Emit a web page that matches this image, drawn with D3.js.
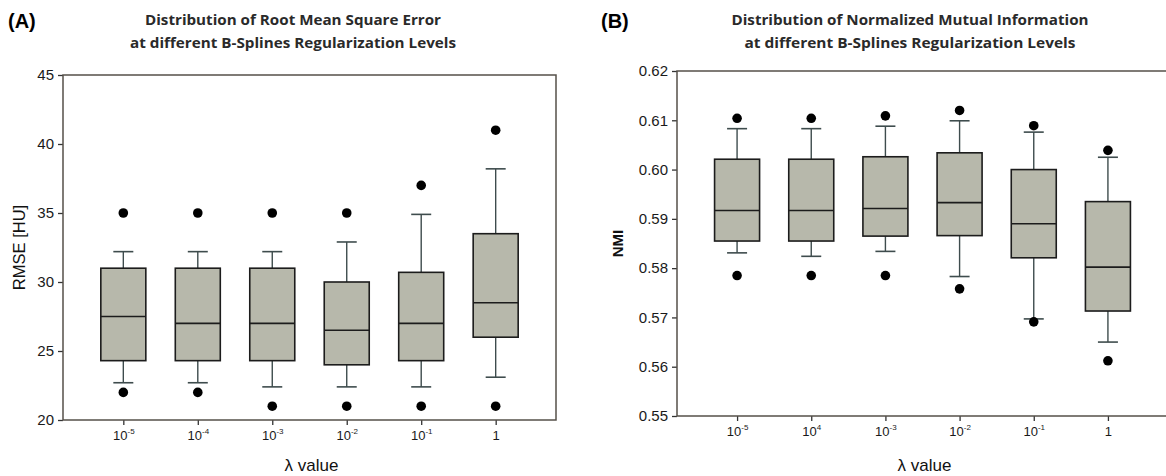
<!DOCTYPE html>
<html>
<head>
<meta charset="utf-8">
<script src="https://cdn.jsdelivr.net/npm/d3@7"></script>
<style>
  body { margin: 0; background: #fff; }
  svg { display: block; font-family: 'Liberation Sans', Arial, sans-serif; }
</style>
</head>
<body>
<svg id="chart" width="1166" height="476"></svg>
<script>
// categories (lambda levels) and tick labels
var lambdas = ["1e-5", "1e-4", "1e-3", "1e-2", "1e-1", "1"];
var tickBase = ["10", "10", "10", "10", "10", "1"];
var tickExpA = ["-5", "-4", "-3", "-2", "-1", ""];
var tickExpB = ["-5", "4", "-3", "-2", "-1", ""];

// (A) RMSE [HU]
var rmseLow = [22.7, 22.7, 22.4, 22.4, 22.4, 23.1];
var rmseQ1 = [24.3, 24.3, 24.3, 24.0, 24.3, 26.0];
var rmseMed = [27.5, 27.0, 27.0, 26.5, 27.0, 28.5];
var rmseQ3 = [31.0, 31.0, 31.0, 30.0, 30.7, 33.5];
var rmseHigh = [32.2, 32.2, 32.2, 32.9, 34.9, 38.2];
var rmseOutLow = [22, 22, 21, 21, 21, 21];
var rmseOutHigh = [35, 35, 35, 35, 37, 41];
var rmseTicks = [20, 25, 30, 35, 40, 45];

// (B) NMI
var nmiLow = [0.5831, 0.5824, 0.5834, 0.5783, 0.5697, 0.5650];
var nmiQ1 = [0.5855, 0.5855, 0.5865, 0.5866, 0.5821, 0.5713];
var nmiMed = [0.5917, 0.5917, 0.5921, 0.5933, 0.5890, 0.5802];
var nmiQ3 = [0.6021, 0.6021, 0.6026, 0.6034, 0.6000, 0.5935];
var nmiHigh = [0.6083, 0.6083, 0.6088, 0.6099, 0.6076, 0.6025];
var nmiOutLow = [0.5785, 0.5785, 0.5785, 0.5758, 0.5691, 0.5612];
var nmiOutHigh = [0.6104, 0.6104, 0.6109, 0.6120, 0.6089, 0.6039];
var nmiTicks = [0.55, 0.56, 0.57, 0.58, 0.59, 0.60, 0.61, 0.62];

var BOX_FILL = "#b7b8ab";
var BOX_STROKE = "#1c1c1c";
var WHISKER = "#3e4c4d";
var FRAME = "#555049";
var FONT = "'Liberation Sans', Arial, Helvetica, sans-serif";

var svg = d3.select("#chart");

function rows(low, q1, med, q3, high, outLow, outHigh) {
  return lambdas.map(function (l, i) {
    return { k: l, low: low[i], q1: q1[i], med: med[i], q3: q3[i], high: high[i],
      outs: [outLow[i], outHigh[i]] };
  });
}

function drawPanel(p) {
  var g = svg.append("g");
  var x = d3.scalePoint().domain(lambdas).range([p.left, p.right]).padding(0.81);
  var y = d3.scaleLinear().domain(p.domain).range([p.bottom, p.top]);
  var bw = 45, cap = 20;

  // y axis
  var ya = g.append("g")
    .attr("transform", "translate(" + p.left + ",0)")
    .call(d3.axisLeft(y).tickValues(p.ticks).tickFormat(p.fmt).tickSize(5).tickPadding(4));
  ya.select(".domain").remove();
  ya.selectAll("line").attr("stroke", "#333").attr("stroke-width", 1.3);
  ya.selectAll("text").attr("font-size", 15).attr("fill", "#1a1a1a")
    .attr("font-family", FONT);

  // x axis
  var xa = g.append("g")
    .attr("transform", "translate(0," + p.bottom + ")")
    .call(d3.axisBottom(x).tickSize(5).tickPadding(6));
  xa.select(".domain").remove();
  xa.selectAll("line").attr("stroke", "#333").attr("stroke-width", 1.3);
  xa.selectAll("text").each(function (d, i) {
    var t = d3.select(this).text("")
      .attr("font-size", 13).attr("fill", "#1a1a1a")
      .attr("font-family", FONT);
    t.append("tspan").text(tickBase[i]);
    if (p.exps[i]) {
      t.append("tspan").attr("dy", -6).attr("font-size", 8).text(p.exps[i]);
    }
  });

  // frame
  g.append("rect")
    .attr("x", p.left).attr("y", p.top)
    .attr("width", p.right - p.left).attr("height", p.bottom - p.top)
    .attr("fill", "none").attr("stroke", FRAME).attr("stroke-width", 1.5);

  var b = g.selectAll(".box").data(p.data).enter().append("g");
  // whiskers
  b.append("line")
    .attr("x1", function (d) { return x(d.k); }).attr("x2", function (d) { return x(d.k); })
    .attr("y1", function (d) { return y(d.high); }).attr("y2", function (d) { return y(d.q3); })
    .attr("stroke", WHISKER).attr("stroke-width", 1.4);
  b.append("line")
    .attr("x1", function (d) { return x(d.k); }).attr("x2", function (d) { return x(d.k); })
    .attr("y1", function (d) { return y(d.q1); }).attr("y2", function (d) { return y(d.low); })
    .attr("stroke", WHISKER).attr("stroke-width", 1.4);
  ["high", "low"].forEach(function (key) {
    b.append("line")
      .attr("x1", function (d) { return x(d.k) - cap / 2; })
      .attr("x2", function (d) { return x(d.k) + cap / 2; })
      .attr("y1", function (d) { return y(d[key]); })
      .attr("y2", function (d) { return y(d[key]); })
      .attr("stroke", WHISKER).attr("stroke-width", 1.6);
  });
  // box
  b.append("rect")
    .attr("x", function (d) { return x(d.k) - bw / 2; })
    .attr("y", function (d) { return y(d.q3); })
    .attr("width", bw)
    .attr("height", function (d) { return y(d.q1) - y(d.q3); })
    .attr("fill", BOX_FILL).attr("stroke", BOX_STROKE).attr("stroke-width", 1.6);
  b.append("line")
    .attr("x1", function (d) { return x(d.k) - bw / 2; })
    .attr("x2", function (d) { return x(d.k) + bw / 2; })
    .attr("y1", function (d) { return y(d.med); })
    .attr("y2", function (d) { return y(d.med); })
    .attr("stroke", BOX_STROKE).attr("stroke-width", 1.6);
  // outliers
  b.selectAll("circle").data(function (d) { return d.outs.map(function (v) { return { k: d.k, v: v }; }); })
    .enter().append("circle")
    .attr("cx", function (d) { return x(d.k); })
    .attr("cy", function (d) { return y(d.v); })
    .attr("r", 4.8).attr("fill", "#000");

  // axis titles
  var cy = (p.top + p.bottom) / 2;
  g.append("text")
    .attr("transform", "translate(" + p.ylabX + "," + cy + ")rotate(-90)")
    .attr("text-anchor", "middle").attr("dy", "0.35em")
    .attr("font-family", FONT)
    .attr("font-size", p.ylabSize).attr("font-weight", p.ylabBold ? "bold" : "normal")
    .attr("fill", "#111").text(p.ylab);
  g.append("text")
    .attr("x", (p.left + p.right) / 2 + 2).attr("y", 471)
    .attr("text-anchor", "middle").attr("font-family", FONT)
    .attr("font-size", 17).attr("fill", "#111").text("\u03bb value");

  // panel letter and title
  g.append("text").attr("x", p.letterX).attr("y", 28)
    .attr("font-family", FONT)
    .attr("font-size", 20).attr("font-weight", "bold").attr("fill", "#000").text(p.letter);
  p.title.forEach(function (line, i) {
    g.append("text")
      .attr("x", p.titleX).attr("y", 25 + i * 23)
      .attr("text-anchor", "middle")
      .attr("font-family", "'Open Sans', 'Noto Sans', sans-serif")
      .attr("font-size", 15).attr("font-weight", "bold").attr("fill", "#2a2a2a")
      .attr("textLength", p.titleW[i]).attr("lengthAdjust", "spacingAndGlyphs")
      .text(line);
  });
}

drawPanel({
  left: 63, right: 556, top: 75, bottom: 420,
  domain: [20, 45], ticks: rmseTicks, fmt: d3.format("d"),
  exps: tickExpA,
  data: rows(rmseLow, rmseQ1, rmseMed, rmseQ3, rmseHigh, rmseOutLow, rmseOutHigh),
  ylab: "RMSE [HU]", ylabX: 19, ylabBold: false, ylabSize: 16.5,
  letter: "(A)", letterX: 8,
  title: ["Distribution of Root Mean Square Error", "at different B-Splines Regularization Levels"],
  titleX: 293, titleW: [296, 326]
});

drawPanel({
  left: 677, right: 1168, top: 71, bottom: 416,
  domain: [0.55, 0.62], ticks: nmiTicks, fmt: d3.format(".2f"),
  exps: tickExpB,
  data: rows(nmiLow, nmiQ1, nmiMed, nmiQ3, nmiHigh, nmiOutLow, nmiOutHigh),
  ylab: "NMI", ylabX: 618, ylabBold: true, ylabSize: 15,
  letter: "(B)", letterX: 601,
  title: ["Distribution of Normalized Mutual Information", "at different  B-Splines Regularization Levels"],
  titleX: 910, titleW: [357, 331]
});
</script>
</body>
</html>
